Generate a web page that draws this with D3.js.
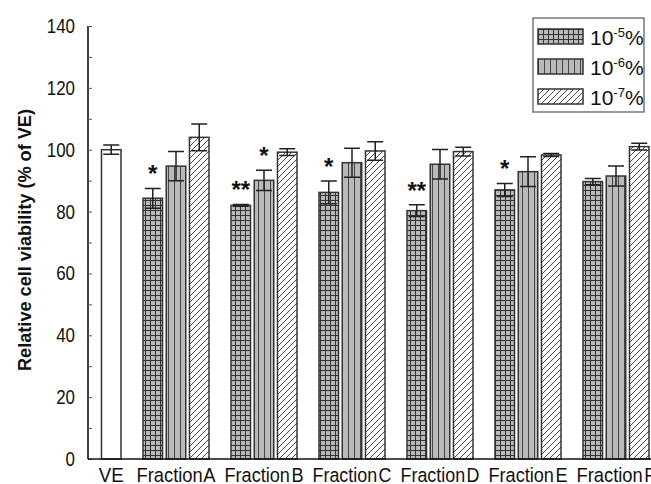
<!DOCTYPE html>
<html>
<head>
<meta charset="utf-8">
<script src="https://cdn.jsdelivr.net/npm/d3@7/dist/d3.min.js"></script>
<style>
body { margin: 0; background: #fff; }
text { font-family: "Liberation Sans", Arial, sans-serif; fill: #111; }
</style>
</head>
<body>
<svg id="chart"></svg>
<script>
// data
var groups = ["VE", "Fraction A", "Fraction B", "Fraction C", "Fraction D", "Fraction E", "Fraction F"];
var fractions = ["Fraction A", "Fraction B", "Fraction C", "Fraction D", "Fraction E", "Fraction F"];
var series = ["10-5", "10-6", "10-7"];
var seriesExp = ["-5", "-6", "-7"];
var conc5 = [84.3, 82.0, 86.2, 80.3, 87.0, 89.7];
var conc5Err = [3.2, 0.3, 3.7, 1.9, 2.1, 1.0];
var conc6 = [94.7, 90.1, 95.8, 95.3, 92.9, 91.5];
var conc6Err = [4.7, 3.3, 4.7, 4.8, 4.8, 3.2];
var conc7 = [104.0, 99.2, 99.6, 99.4, 98.3, 101.0];
var conc7Err = [4.3, 1.1, 3.0, 1.4, 0.5, 1.1];
var stars5 = ["*", "**", "*", "**", "*", ""];
var stars6 = ["", "*", "", "", "", ""];
var veValue = 100, veErr = 1.5;
var yTicks = [0, 20, 40, 60, 80, 100, 120, 140];

var W = 651, H = 484;
var svg = d3.select("svg#chart").attr("width", W).attr("height", H);

var x0 = d3.scaleBand().domain(groups).range([44, 660]).padding(0);
var half = x0.bandwidth() / 2;
var x1 = d3.scaleBand().domain(series).range([half - 33, half + 33]).paddingInner(0.16);
var y = d3.scaleLinear().domain([0, 140]).range([459, 26]);

// patterns
var defs = svg.append("defs");
var pGrid = defs.append("pattern").attr("id", "pgrid").attr("patternUnits", "userSpaceOnUse")
  .attr("width", 5).attr("height", 5);
pGrid.append("rect").attr("width", 5).attr("height", 5).attr("fill", "#b9b9b9");
pGrid.append("path").attr("d", "M0,0.5H5M0.5,0V5").attr("stroke", "#333").attr("stroke-width", 1);
var pVert = defs.append("pattern").attr("id", "pvert").attr("patternUnits", "userSpaceOnUse")
  .attr("width", 6).attr("height", 6);
pVert.append("rect").attr("width", 6).attr("height", 6).attr("fill", "#b9b9b9");
pVert.append("path").attr("d", "M0.5,0V6").attr("stroke", "#444").attr("stroke-width", 1);
var pDiag = defs.append("pattern").attr("id", "pdiag").attr("patternUnits", "userSpaceOnUse")
  .attr("width", 6).attr("height", 6);
pDiag.append("rect").attr("width", 6).attr("height", 6).attr("fill", "#fff");
pDiag.append("path").attr("d", "M-1,7L7,-1M-1,1L1,-1M5,7L7,5").attr("stroke", "#333").attr("stroke-width", 0.9);
var fills = ["url(#pgrid)", "url(#pvert)", "url(#pdiag)"];

var rows = [];
fractions.forEach(function (f, i) {
  rows.push({ g: f, s: 0, v: conc5[i], e: conc5Err[i], star: stars5[i] });
  rows.push({ g: f, s: 1, v: conc6[i], e: conc6Err[i], star: stars6[i] });
  rows.push({ g: f, s: 2, v: conc7[i], e: conc7Err[i], star: "" });
});
rows.push({ g: "VE", s: 2, v: veValue, e: veErr, star: "", ve: true });

function bx(d) { return x0(d.g) + x1(series[d.s]); }

var bars = svg.append("g");
bars.selectAll("rect")
  .data(rows)
  .enter()
  .append("rect")
  .attr("x", bx)
  .attr("y", function (d) { return y(d.v); })
  .attr("width", x1.bandwidth())
  .attr("height", function (d) { return y(0) - y(d.v); })
  .attr("fill", function (d) { return d.ve ? "#fff" : fills[d.s]; })
  .attr("stroke", "#333")
  .attr("stroke-width", 1.5);

// error bars
var err = svg.append("g").attr("stroke", "#222").attr("stroke-width", 1.5).attr("fill", "none");
rows.forEach(function (d) {
  var cx = bx(d) + x1.bandwidth() / 2, hw = 8;
  err.append("path").attr("d",
    "M" + cx + "," + y(d.v + d.e) + "V" + y(d.v - d.e) +
    "M" + (cx - hw) + "," + y(d.v + d.e) + "H" + (cx + hw) +
    "M" + (cx - hw) + "," + y(d.v - d.e) + "H" + (cx + hw));
});

// significance stars
svg.append("g").selectAll("text")
  .data(rows.filter(function (d) { return d.star; }))
  .enter()
  .append("text")
  .attr("x", function (d) { return bx(d) + x1.bandwidth() / 2; })
  .attr("y", function (d) { return y(d.v + d.e) - 6; })
  .attr("text-anchor", "middle")
  .attr("font-size", 24)
  .attr("font-weight", "bold")
  .text(function (d) { return d.star; });

// axes
var yAxis = d3.axisRight(y).tickValues(d3.range(0, 141, 10)).tickSize(4).tickFormat("");
var ya = svg.append("g").attr("transform", "translate(88,0)").call(yAxis);
ya.select(".domain").attr("stroke-width", 1.5).attr("d", "M0," + y(140) + "V" + y(0));
ya.selectAll(".tick line").attr("stroke", "#555");

svg.append("g").selectAll("text")
  .data(yTicks)
  .enter()
  .append("text")
  .attr("x", 75)
  .attr("y", function (d) { return y(d) + 7; })
  .attr("text-anchor", "end")
  .attr("font-size", 20)
  .attr("textLength", function (d) { return String(d).length * 9.4; })
  .attr("lengthAdjust", "spacingAndGlyphs")
  .text(function (d) { return d; });

svg.append("line").attr("x1", 88).attr("x2", W).attr("y1", y(0)).attr("y2", y(0))
  .attr("stroke", "#111").attr("stroke-width", 1.5);

svg.append("g").selectAll("text")
  .data(groups)
  .enter()
  .append("text")
  .attr("x", function (d) { return d === "VE" ? x0(d) + x1(series[2]) + x1.bandwidth() / 2 : x0(d) + half; })
  .attr("y", 482)
  .attr("text-anchor", "middle")
  .attr("font-size", 20.5)
  .attr("word-spacing", -4)
  .attr("textLength", function (d) { return d === "VE" ? 25 : 79; })
  .attr("lengthAdjust", "spacingAndGlyphs")
  .text(function (d) { return d; });

svg.append("text")
  .attr("transform", "translate(31,240) rotate(-90)")
  .attr("text-anchor", "middle")
  .attr("font-size", 18)
  .attr("font-weight", "bold")
  .attr("textLength", 262)
  .attr("lengthAdjust", "spacingAndGlyphs")
  .text("Relative cell viability (% of VE)");

// legend
var lg = svg.append("g").attr("transform", "translate(533,18)");
lg.append("rect").attr("width", 111).attr("height", 94).attr("fill", "#fff").attr("stroke", "#555").attr("stroke-width", 1.2);
series.forEach(function (s, i) {
  var row = lg.append("g").attr("transform", "translate(5," + (11 + i * 30) + ")");
  row.append("rect").attr("width", 45).attr("height", 15).attr("fill", fills[i]).attr("stroke", "#333").attr("stroke-width", 1.5);
  var t = row.append("text").attr("x", 52).attr("y", 16).attr("font-size", 21);
  t.append("tspan").text("10");
  t.append("tspan").attr("dy", -8).attr("font-size", 13).text(seriesExp[i]);
  t.append("tspan").attr("dy", 8).text("%");
});
</script>
</body>
</html>
